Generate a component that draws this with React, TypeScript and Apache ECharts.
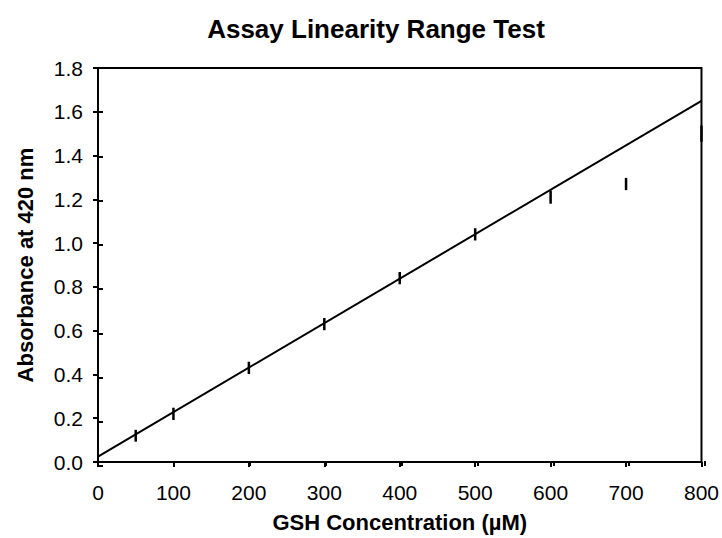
import React, { useEffect, useRef } from "react";
import * as echarts from "echarts";

const concentrations = [50, 100, 200, 300, 400, 500, 600, 700, 800];
const absorbance = [0.12, 0.22, 0.43, 0.63, 0.84, 1.04, 1.21, 1.27, 1.5];
const errors = [0.027, 0.028, 0.028, 0.028, 0.028, 0.028, 0.03, 0.028, 0.037];
const fitX = [0, 800];
const fitY = [0.025, 1.65];

const FONT = "'Liberation Sans', Arial, sans-serif";

export default function App() {
  const ref = useRef<HTMLDivElement>(null);
  useEffect(() => {
    if (!ref.current) return;
    const chart = echarts.init(ref.current, null, { renderer: "svg" });
    const gridPos = { left: 98, right: 17, top: 68, bottom: 72 };
    const errData = concentrations.map((x, i) => [x, absorbance[i] - errors[i], absorbance[i] + errors[i]]);
    chart.setOption({
      animation: false,
      backgroundColor: "#fff",
      title: {
        text: "Assay Linearity Range Test",
        left: 371,
        top: 11,
        textAlign: "center",
        textStyle: { fontFamily: FONT, fontSize: 26, fontWeight: "bold", color: "#000" },
      },
      grid: [
        { ...gridPos, show: true, borderColor: "#000", borderWidth: 2, backgroundColor: "transparent" },
        { ...gridPos },
      ],
      xAxis: [
        {
          type: "value",
          gridIndex: 0,
          min: 0,
          max: 800,
          interval: 100,
          name: "GSH Concentration (µM)",
          nameLocation: "middle",
          nameGap: 49,
          nameTextStyle: { fontFamily: FONT, fontSize: 22, fontWeight: "bold", color: "#000" },
          axisLine: { lineStyle: { color: "#000", width: 2 } },
          axisTick: { inside: false, length: 5, lineStyle: { color: "#000", width: 2 } },
          axisLabel: { fontFamily: FONT, fontSize: 21, color: "#000", margin: 20 },
          splitLine: { show: false },
        },
        {
          type: "value",
          gridIndex: 1,
          min: 0,
          max: 800,
          interval: 100,
          axisLine: { show: false },
          axisTick: { inside: true, length: 5, lineStyle: { color: "#000", width: 2 } },
          axisLabel: { show: false },
          splitLine: { show: false },
        },
      ],
      yAxis: [
        {
          type: "value",
          gridIndex: 0,
          min: 0,
          max: 1.8,
          interval: 0.2,
          name: "Absorbance at 420 nm",
          nameLocation: "middle",
          nameGap: 62,
          nameTextStyle: { fontFamily: FONT, fontSize: 22, fontWeight: "bold", color: "#000" },
          axisLine: { lineStyle: { color: "#000", width: 2 } },
          axisTick: { inside: false, length: 5, lineStyle: { color: "#000", width: 2 } },
          axisLabel: {
            fontFamily: FONT,
            fontSize: 21,
            color: "#000",
            margin: 15,
            formatter: (v: number) => v.toFixed(1),
          },
          splitLine: { show: false },
        },
        {
          type: "value",
          gridIndex: 1,
          min: 0,
          max: 1.8,
          interval: 0.2,
          axisLine: { show: false },
          axisTick: { inside: true, length: 5, lineStyle: { color: "#000", width: 2 } },
          axisLabel: { show: false },
          splitLine: { show: false },
        },
      ],
      series: [
        {
          type: "line",
          xAxisIndex: 0,
          yAxisIndex: 0,
          data: fitX.map((x, i) => [x, fitY[i]]),
          showSymbol: false,
          lineStyle: { color: "#000", width: 2 },
          z: 3,
        },
        {
          type: "custom",
          xAxisIndex: 0,
          yAxisIndex: 0,
          data: errData,
          renderItem: (params: any, api: any) => {
            const x = api.value(0);
            const lo = api.coord([x, api.value(1)]);
            const hi = api.coord([x, api.value(2)]);
            return {
              type: "line",
              shape: { x1: lo[0], y1: lo[1], x2: hi[0], y2: hi[1] },
              style: { stroke: "#000", lineWidth: 2.5 },
            };
          },
          z: 4,
        },
      ],
    });
    return () => chart.dispose();
  }, []);
  return <div ref={ref} style={{ width: 722, height: 538, position: "absolute", left: 0, top: 0 }} />;
}
